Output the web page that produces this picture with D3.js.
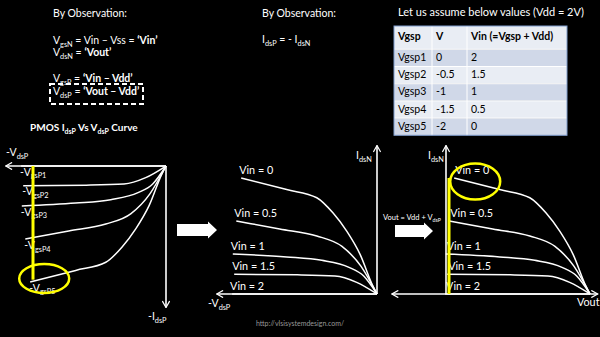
<!DOCTYPE html>
<html><head><meta charset="utf-8">
<script src="https://cdn.jsdelivr.net/npm/d3@7"></script>
<style>
html,body{margin:0;padding:0;background:#000;}
svg{display:block;}
text{font-family:Lato,"Open Sans",sans-serif;fill:#fff;}
</style></head><body>
<svg id="chart" width="600" height="337"></svg>
<script>
// Supply and inverter input levels (one PMOS curve per Vin)
const vdd = 2;
const vinLevels = [0, 0.5, 1, 1.5, 2];
const vgspCurveNames = ["gsP5", "gsP4", "gsP3", "gsP2", "gsP1"];

// PMOS characteristic: |VdsP| in volts and relative drain current, one row per Vin
const curveVsd = [
  [1.94, 1.29, 0.86, 0.63, 0.43, 0.24, 0.06, 0],
  [2.01, 1.39, 0.86, 0.50, 0.23, 0],
  [2.06, 1.29, 0.79, 0.40, 0.19, 0],
  [2.04, 1.14, 0.60, 0.29, 0],
  [2.07, 0]
];
const curveId = [
  [1.00, 0.90, 0.83, 0.70, 0.54, 0.34, 0.07, 0],
  [0.63, 0.56, 0.50, 0.41, 0.24, 0],
  [0.345, 0.32, 0.29, 0.23, 0.155, 0],
  [0.17, 0.165, 0.155, 0.10, 0],
  [0, 0]
];

// Assumed values table
const tableHeader = ["Vgsp", "V", "Vin (=Vgsp + Vdd)"];
const tableVgsp = ["Vgsp1", "Vgsp2", "Vgsp3", "Vgsp4", "Vgsp5"];
const tableV = ["0", "-0.5", "-1", "-1.5", "-2"];
const tableVin = ["2", "1.5", "1", "0.5", "0"];

const svg = d3.select("#chart");
const curves = vinLevels.map((vin, k) => ({
  vin, name: vgspCurveNames[k],
  pts: curveVsd[k].map((v, j) => [v, curveId[k][j]])
}));

// open chevron arrowhead for the axes
svg.append("defs").append("marker")
  .attr("id", "chev").attr("viewBox", "0 -5 10 10")
  .attr("refX", 9).attr("refY", 0)
  .attr("markerWidth", 8).attr("markerHeight", 8)
  .attr("markerUnits", "userSpaceOnUse").attr("orient", "auto-start-reverse")
  .append("path").attr("d", "M1,-4.5L9,0L1,4.5")
  .attr("fill", "none").attr("stroke", "#fff").attr("stroke-width", 1.5);

// text made of runs: plain, bold ("b") or subscript ("sub")
function rich(g, x, y, parts, size, weight) {
  const t = g.append("text").attr("x", x).attr("y", y)
    .attr("font-size", size).attr("font-weight", weight || "normal");
  let shifted = false;
  parts.forEach(([s, kind]) => {
    const ts = t.append("tspan").text(s);
    if (kind === "sub") {
      ts.attr("font-size", size * 0.7).attr("dy", shifted ? 0 : size * 0.28);
      shifted = true;
    } else {
      if (shifted) { ts.attr("dy", -size * 0.28); shifted = false; }
      if (kind === "b") ts.attr("font-weight", "bold");
    }
  });
  return t;
}

function axisLine(x1, y1, x2, y2, both) {
  const l = svg.append("line").attr("x1", x1).attr("y1", y1).attr("x2", x2).attr("y2", y2)
    .attr("stroke", "#fff").attr("stroke-width", 1.6).attr("marker-end", "url(#chev)");
  if (both) l.attr("marker-start", "url(#chev)");
}

function drawCurves(xOf, y) {
  const line = d3.line().x(d => d[0]).y(d => d[1]).curve(d3.curveMonotoneX);
  curves.forEach(c => {
    const px = d3.sort(c.pts.map(p => [xOf(p[0]), y(p[1])]), d => d[0]);
    svg.append("path").attr("d", line(px)).attr("fill", "none")
      .attr("stroke", "#fff").attr("stroke-width", 1.5);
  });
}

function fatArrow(x0, x1, yc) {
  const hw = 6, hh = 8.5, head = 9;
  svg.append("path").attr("fill", "#fff")
    .attr("d", `M${x0},${yc - hw}H${x1 - head}V${yc - hh}L${x1},${yc}L${x1 - head},${yc + hh}V${yc + hw}H${x0}Z`);
}

// ---------- top texts ----------
const fs = 10.5;
rich(svg, 53, 17, [["By Observation:"]], fs);
rich(svg, 53, 44, [["V"], ["gsN", "sub"], [" = Vin \u2013 Vss = "], ["\u2018Vin\u2019", "b"]], fs);
rich(svg, 53, 56, [["V"], ["dsN", "sub"], [" = "], ["\u2018Vout\u2019", "b"]], fs);
rich(svg, 53, 82, [["V"], ["gsP", "sub"], [" = "], ["\u2018Vin \u2013 Vdd\u2019", "b"]], fs);
rich(svg, 53, 95, [["V"], ["dsP", "sub"], [" = "], ["\u2018Vout \u2013 Vdd\u2019", "b"]], fs);
svg.append("rect").attr("x", 50).attr("y", 84).attr("width", 93).attr("height", 20)
  .attr("fill", "none").attr("stroke", "#fff").attr("stroke-width", 2).attr("stroke-dasharray", "5,3");

rich(svg, 262, 17, [["By Observation:"]], fs);
rich(svg, 262, 43, [["I"], ["dsP", "sub"], [" = - I"], ["dsN", "sub"]], fs);

rich(svg, 398, 16, [["Let us assume below values (Vdd = 2V)"]], 11);

// ---------- table ----------
const colX = [394, 432, 467, 567];
const rowY = [26, 49.3].concat(d3.range(1, 6).map(i => 49.3 + i * 17.2));
const tbl = svg.append("g");
const rowsAll = [tableHeader].concat(tableVgsp.map((n, i) => [n, tableV[i], tableVin[i]]));
rowsAll.forEach((row, r) => {
  tbl.append("rect").attr("x", colX[0]).attr("y", rowY[r])
    .attr("width", colX[3] - colX[0]).attr("height", rowY[r + 1] - rowY[r])
    .attr("fill", r % 2 === 1 ? "#d0d8e8" : "#e9edf4");
  row.forEach((s, c) => {
    tbl.append("text").attr("x", colX[c] + 4).attr("y", rowY[r + 1] - (r === 0 ? 9.5 : 5.5))
      .attr("font-size", 10.5).attr("font-weight", r === 0 ? "bold" : "normal")
      .style("fill", "#000").text(s);
  });
});
rowY.slice(1, -1).forEach(yy => tbl.append("line").attr("x1", colX[0]).attr("x2", colX[3])
  .attr("y1", yy).attr("y2", yy).attr("stroke", "#fff").attr("stroke-width", 1));
colX.slice(1, -1).forEach(xx => tbl.append("line").attr("x1", xx).attr("x2", xx)
  .attr("y1", rowY[0]).attr("y2", rowY[6]).attr("stroke", "#fff").attr("stroke-width", 1));
tbl.append("rect").attr("x", colX[0]).attr("y", rowY[0]).attr("width", colX[3] - colX[0])
  .attr("height", rowY[6] - rowY[0]).attr("fill", "none").attr("stroke", "#7f9ccb").attr("stroke-width", 1);

// ---------- panel 1: PMOS IdsP vs VdsP ----------
const x1 = d3.scaleLinear([0, 2], [166, 26]);
const y1 = d3.scaleLinear([0, 1], [166, 282]);
rich(svg, 30, 131, [["PMOS I"], ["dsP", "sub"], [" Vs V"], ["dsP", "sub"], [" Curve"]], 10, "bold");
axisLine(x1(0), y1(0), x1(2.29), y1(0));
axisLine(x1(0), y1(0), x1(0), y1(1.22));
rich(svg, 6, 156, [["-V"], ["dsP", "sub"]], 10.5);
rich(svg, 148, 320, [["-I"], ["dsP", "sub"]], 10.5);
drawCurves(x1, y1);
curves.forEach(c => rich(svg, x1(c.pts[0][0]) - 1, y1(c.pts[0][1]) + 9.5, [["-V"], [c.name, "sub"]], 10.5));
svg.append("line").attr("x1", x1(1.9)).attr("x2", x1(1.9)).attr("y1", y1(0)).attr("y2", y1(0.98))
  .attr("stroke", "#ffff00").attr("stroke-width", 3);
svg.append("ellipse").attr("cx", x1(1.74)).attr("cy", y1(0.97)).attr("rx", 25).attr("ry", 14.5)
  .attr("fill", "none").attr("stroke", "#ffff00").attr("stroke-width", 2.5);

fatArrow(177, 217, 230);

// ---------- panel 2: IdsN vs -VdsP ----------
const x2 = d3.scaleLinear([0, 2], [377, 237]);
const y2 = d3.scaleLinear([0, 1], [294, 178]);
axisLine(x2(0), y2(0), x2(2.29), y2(0));
axisLine(x2(0), y2(0), x2(0), y2(1.28));
rich(svg, 208, 307, [["-V"], ["dsP", "sub"]], 10.5);
rich(svg, 356, 159, [["I"], ["dsN", "sub"]], 10.5);
drawCurves(x2, y2);
curves.forEach(c => rich(svg, x2(c.pts[0][0]) - 2, y2(c.pts[0][1]) - 4, [["Vin = " + c.vin]], 10.8));

// ---------- panel 3: IdsN vs Vout ----------
const x3 = d3.scaleLinear([0, vdd], [450, 590]);
const y3 = d3.scaleLinear([0, 1], [294, 178]);
axisLine(x3(-0.83), y3(0), x3(2.11), y3(0), true);
axisLine(x3(0) - 4, y3(0), x3(0) - 4, y3(1.28));
rich(svg, 428, 159, [["I"], ["dsN", "sub"]], 10.5);
rich(svg, 577, 306, [["Vout"]], 10.8);
rich(svg, 383, 220, [["Vout = Vdd + V"], ["dsP", "sub"]], 7.5);
fatArrow(395, 433, 231);
drawCurves(v => x3(vdd - v), y3);
curves.forEach(c => rich(svg, x3(vdd - c.pts[0][0]) + 1, y3(c.pts[0][1]) - 4, [["Vin = " + c.vin]], 10.8));
svg.append("line").attr("x1", x3(0) - 1).attr("x2", x3(0) - 1).attr("y1", y3(1.0)).attr("y2", y3(0))
  .attr("stroke", "#ffff00").attr("stroke-width", 3);
svg.append("ellipse").attr("cx", x3(0.36)).attr("cy", y3(0.97)).attr("rx", 25).attr("ry", 18)
  .attr("fill", "none").attr("stroke", "#ffff00").attr("stroke-width", 2.5);

svg.append("text").attr("x", 300).attr("y", 326).attr("text-anchor", "middle")
  .attr("font-size", 7).style("fill", "#999").text("http://vlsisystemdesign.com/");
</script>
</body></html>
